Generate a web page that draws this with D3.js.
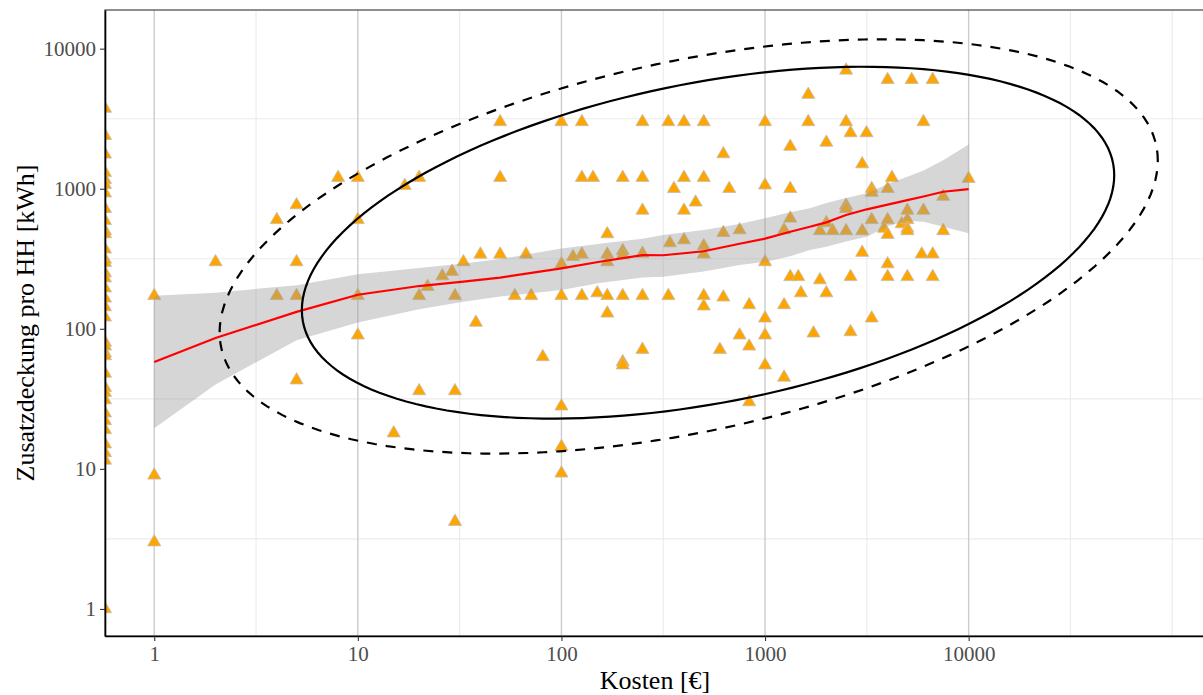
<!DOCTYPE html>
<html>
<head>
<meta charset="utf-8">
<script src="https://cdn.jsdelivr.net/npm/d3@7"></script>
<style>
  body { margin: 0; background: #fff; }
  text { font-family: "Liberation Serif", "Times New Roman", serif; }
</style>
</head>
<body>
<div id="chart"></div>
<script>
// Kosten (x) and Zusatzdeckung (y); Kosten 0 sits on the left panel edge
const kosten = [
  0,0,0,0,0,0,0,0,0,0,0,0,0,0,0,0,0,0,0,0,0,0,0,0,0,0,0,0,0,0,0,0,0,0,0,
  1,1,1, 2, 4,4, 5,5,5,5, 8, 10,10,10,10, 15, 17, 20,20,20, 22, 26, 29, 30,30,30, 33, 38, 40,
  50,50,50, 59, 67, 71, 81, 100,100,100,100,100,100, 114, 126,126,126,126, 143, 150,
  168,168,168,168,168, 200,200,200,200,200,200, 250,250,250,250,250,250, 335,335, 341, 357,
  400,400,400,400, 456, 500,500,500,500,500,500, 600, 624,624,624, 667, 750,750, 836,836,836,
  1000,1000,1000,1000,1000,1000, 1240,1240,1240, 1330,1330,1330,1330, 1456, 1500, 1630,1630, 1730,
  1860,1860, 2000,2000,2000, 2150, 2500,2500,2500,2500,2500, 2630,2630,2630, 3000,3000,3000, 3150,
  3340,3340,3340,3340, 3840, 4000,4000,4000,4000,4000,4000, 4200, 4690, 5000,5000,5000,5000,5000,
  5250, 5880, 6000,6000, 6660,6660,6660, 7500,7500, 10000
];
const deckung = [
  3740,2390,1760,1300,1160,1070,930,720,590,500,475,370,313,296,250,230,195,165,143,121,80,75,67,64,48,38,35,31,25,22,19,15,13,11.5,1,
  172,9,3, 300, 600,172, 765,300,172,43, 1200, 1200,600,172,90, 18, 1050, 1200,172,36, 200, 238, 256, 172,36,4.2, 300, 111, 340,
  3000,1200,340, 172, 340, 172, 63, 3000,290,172,28,14.4,9.3, 327, 3000,1200,340,172, 1200, 180,
  475,340,300,172,129, 1200,360,336,172,58,55, 3000,1200,700,345,172,71, 3000,172, 410, 1000,
  3000,1200,700,430, 800, 3000,1200,390,341,172,145, 71, 1770,485,168, 1000, 507,90, 148,75,30,
  3000,1060,300,119,90,55, 507,148,45, 2000,1000,615,235, 235, 180, 4700,3000, 93,
  500,223, 2140,570,180, 500, 7000,3000,760,720,500, 2500,235,95, 1500,500,350, 2500,
  1000,940,600,119, 520, 6000,1000,600,470,290,235, 1200, 560, 700,600,520,500,235,
  6000, 341, 3000,700, 6000,341,235, 880,500, 1180
];

// loess fit with confidence band
const smoothX  = [1, 2, 5, 10, 20, 33, 50, 100, 154, 250, 316, 500, 750, 1000, 1330, 1660, 2000, 2500, 3162, 4000, 5000, 6000, 7500, 10000];
const smoothY  = [58, 86, 132, 175, 202, 217, 232, 270, 301, 336, 335, 358, 405, 440, 493, 535, 575, 649, 713, 770, 830, 880, 952, 995];
const smoothLo = [19.5, 40, 83, 111, 138, 156, 170, 189, 212, 232, 235, 256, 285, 300, 330, 365, 385, 420, 454, 540, 590, 582, 535, 481];
const smoothHi = [172, 181, 205, 245, 272, 293, 315, 375, 405, 440, 468, 507, 560, 615, 680, 725, 790, 860, 927, 1080, 1220, 1350, 1600, 2070];

// ellipses in log10 units: [centre x, centre y, half width, half height, cos of phase]
const ellipseSolid  = [2.72, 2.615, 1.995, 1.256, 0.383];
const ellipseDashed = [2.625, 2.588, 2.304, 1.479, 0.415];

const xTicks = [1, 10, 100, 1000, 10000];
const yTicks = [1, 10, 100, 1000, 10000];

const margin = {top: 10, right: -1, bottom: 59, left: 105},
      width = 1203 - margin.left - margin.right,
      height = 695 - margin.top - margin.bottom;

const svg = d3.select("#chart")
    .append("svg")
    .attr("width", 1203)
    .attr("height", 695)
    .append("g")
    .attr("transform", `translate(${margin.left},${margin.top})`);

const x = d3.scaleLog().domain([0.573, 143200]).range([0, width]);
const y = d3.scaleLog().domain([0.641, 18880]).range([height, 0]);

svg.append("clipPath").attr("id", "clip")
  .append("rect").attr("width", width).attr("height", height);

// grid: light minor lines, darker major verticals
const minorX = [0.5, 1.5, 2.5, 3.5, 4.5, 5].map(p => Math.pow(10, p));
const minorY = [0.5, 1.5, 2.5, 3.5].map(p => Math.pow(10, p));
svg.selectAll(".gx").data(minorX).enter().append("line")
    .attr("x1", d => x(d)).attr("x2", d => x(d))
    .attr("y1", 0).attr("y2", height)
    .attr("stroke", "#ebebeb").attr("stroke-width", 1.1);
svg.selectAll(".gy").data(minorY).enter().append("line")
    .attr("y1", d => y(d)).attr("y2", d => y(d))
    .attr("x1", 0).attr("x2", width)
    .attr("stroke", "#ebebeb").attr("stroke-width", 1.1);
svg.selectAll(".gxm").data(xTicks).enter().append("line")
    .attr("x1", d => x(d)).attr("x2", d => x(d))
    .attr("y1", 0).attr("y2", height)
    .attr("stroke", "#cccccc").attr("stroke-width", 1.4);

const plot = svg.append("g").attr("clip-path", "url(#clip)");

function k0(k) { return k > 0 ? x(k) : 0; }

// points
const pts = kosten.map((k, i) => ({k: k, v: deckung[i]}));
plot.selectAll(".pt").data(pts).enter().append("path")
    .attr("d", d3.symbol().type(d3.symbolTriangle).size(74))
    .attr("transform", d => `translate(${k0(d.k)},${y(d.v)})`)
    .attr("fill", "#FFA500")
    .attr("stroke", "#c4bcae")
    .attr("stroke-width", 0.8);

// smooth band and line
const band = smoothX.map((s, i) => ({x: s, lo: smoothLo[i], hi: smoothHi[i], f: smoothY[i]}));
plot.append("path").datum(band)
    .attr("d", d3.area().x(d => x(d.x)).y0(d => y(d.lo)).y1(d => y(d.hi)))
    .attr("fill", "#999999").attr("fill-opacity", 0.4);
plot.append("path").datum(band)
    .attr("d", d3.line().x(d => x(d.x)).y(d => y(d.f)))
    .attr("fill", "none").attr("stroke", "#ff0000").attr("stroke-width", 2.2);

// ellipses
function ellipsePoints(e) {
  const phi = Math.acos(e[4]);
  return d3.range(0, 361, 2).map(a => {
    const t = a * Math.PI / 180;
    return [Math.pow(10, e[0] + e[2] * Math.cos(t)), Math.pow(10, e[1] + e[3] * Math.cos(t - phi))];
  });
}
const eLine = d3.line().x(d => x(d[0])).y(d => y(d[1])).curve(d3.curveLinearClosed);
plot.append("path").datum(ellipsePoints(ellipseSolid))
    .attr("d", eLine).attr("fill", "none")
    .attr("stroke", "#000").attr("stroke-width", 2.2);
plot.append("path").datum(ellipsePoints(ellipseDashed))
    .attr("d", eLine).attr("fill", "none")
    .attr("stroke", "#000").attr("stroke-width", 2.2)
    .attr("stroke-dasharray", "10,9");

// panel border
svg.append("rect").attr("width", width).attr("height", height)
    .attr("fill", "none").attr("stroke", "#333").attr("stroke-width", 1.1);

// axes
const xAxis = svg.append("g")
    .attr("transform", `translate(0,${height})`)
    .call(d3.axisBottom(x).tickValues(xTicks).tickFormat(d3.format("d"))
      .tickSizeInner(5).tickSizeOuter(0).tickPadding(5));
const yAxis = svg.append("g")
    .call(d3.axisLeft(y).tickValues(yTicks).tickFormat(d3.format("d"))
      .tickSizeInner(5).tickSizeOuter(0).tickPadding(4));
[xAxis, yAxis].forEach(a => {
  a.select(".domain").attr("stroke", "#000").attr("stroke-width", 1.6);
  a.selectAll(".tick line").attr("stroke", "#333").attr("stroke-width", 1.1);
  a.selectAll(".tick text").attr("fill", "#4d4d4d")
    .style("font-size", "21px").style("font-family", "'Liberation Serif', serif");
});

// axis titles
svg.append("text")
    .attr("x", (1203 - margin.left) / 2 + 1).attr("y", height + 53)
    .attr("text-anchor", "middle")
    .style("font-size", "26px")
    .text("Kosten [€]");
svg.append("text")
    .attr("transform", `translate(${-margin.left + 34},${height / 2}) rotate(-90)`)
    .attr("text-anchor", "middle")
    .style("font-size", "26px")
    .text("Zusatzdeckung pro HH [kWh]");
</script>
</body>
</html>
